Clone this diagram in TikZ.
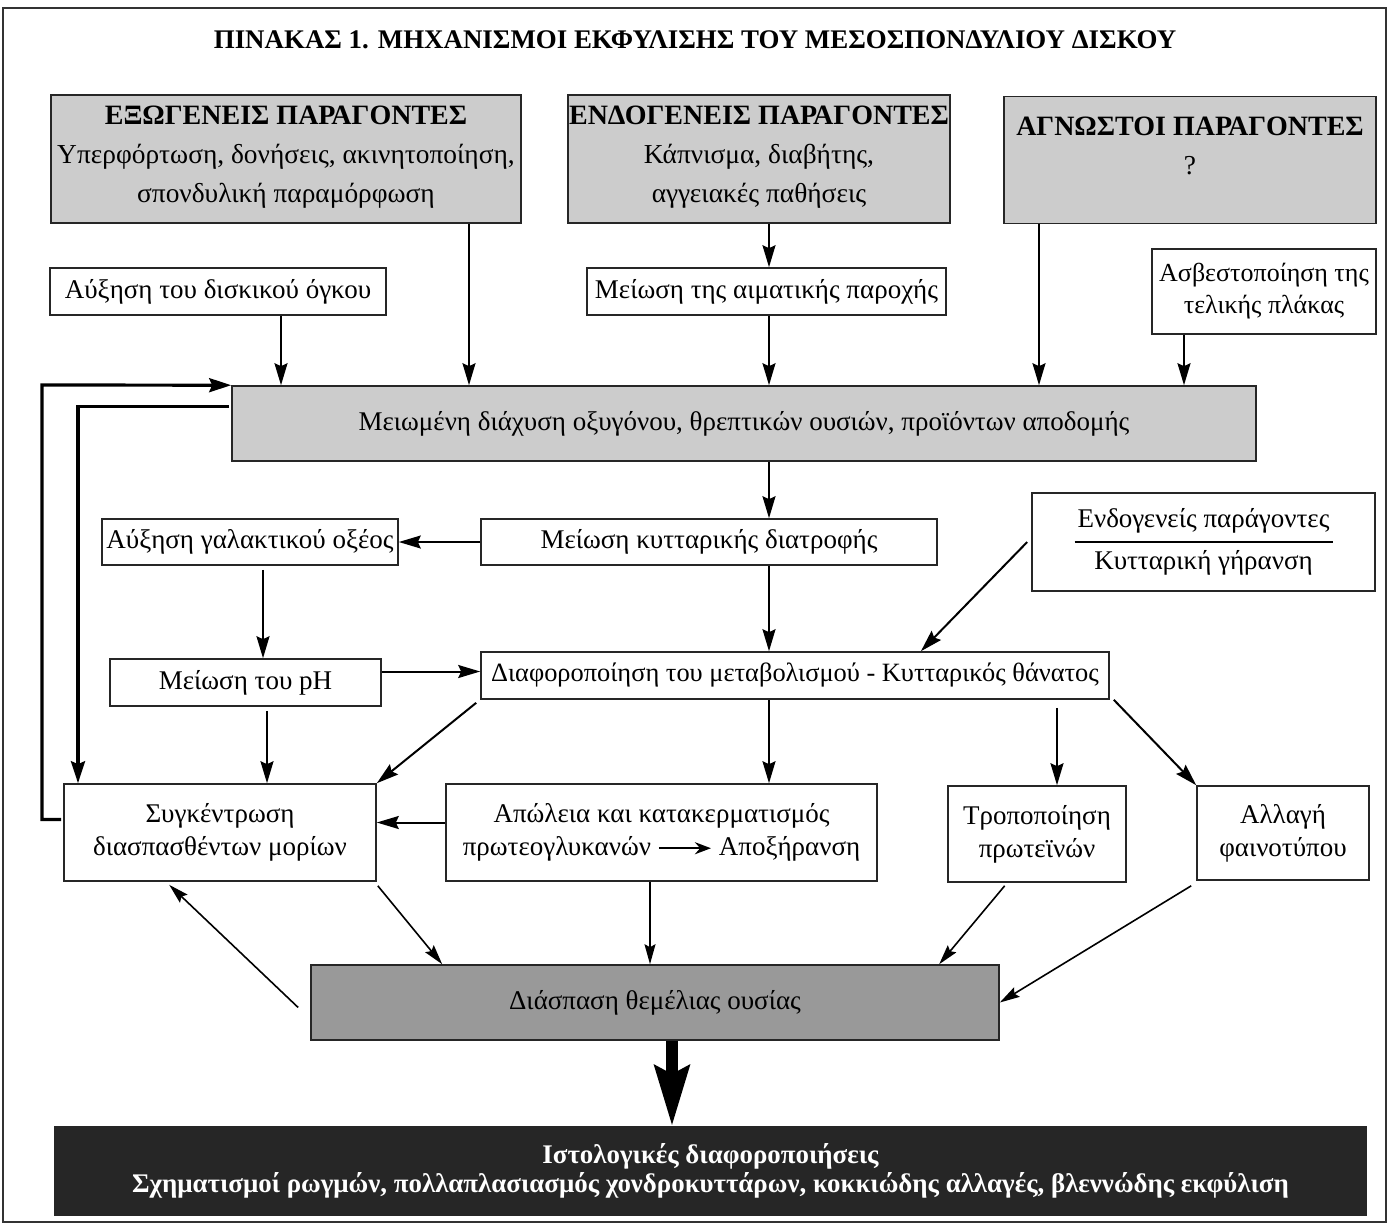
\documentclass[tikz,border=0pt]{standalone}
\usepackage{fontspec}
\setmainfont{Liberation Serif}
\usetikzlibrary{arrows.meta,calc}

\newcommand{\bodyfont}{\fontsize{13.5}{16.5}\selectfont}
\newcommand{\topfont}{\fontsize{13.7}{19.5}\selectfont}
\newcommand{\headfont}{\fontsize{14}{19.5}\selectfont\bfseries}
\newcommand{\longarr}{\tikz[baseline=-0.6ex]\draw[line width=1.2pt,-{Stealth[length=8pt,width=6pt]}] (0pt,0pt) -- (26pt,0pt);}

\begin{document}
\begin{tikzpicture}[x=0.5pt, y=-0.5pt,
  wh/.style 2 args={minimum width={#1*0.5pt}, minimum height={#2*0.5pt}},
  box/.style={draw=black!85, line width=0.8pt, fill=white, inner sep=0pt, align=center, font=\bodyfont},
  graybox/.style={box, fill=gray!40},
  toptext/.style={align=center, font=\topfont, inner sep=0pt},
  arr/.style={line width=1pt, -{Stealth[length=11pt, width=6.5pt, inset=1.5pt]}},
  thinarr/.style={line width=0.8pt, -{Stealth[length=10pt, width=5.5pt, inset=1.5pt]}},
  fb/.style={line width=1.6pt, -{Stealth[length=11pt, width=7pt, inset=1.5pt]}},
  bigarr/.style={line width=6pt, -{Stealth[length=30pt, width=17pt, inset=4pt]}},
]
\useasboundingbox (0,0) rectangle (1393,1228);
\draw[draw=black!80, line width=0.8pt] (3,8) rectangle (1386,1222);

% title
\node[font=\fontsize{13.45}{15}\selectfont\bfseries] (title) at (695,40) {ΠΙΝΑΚΑΣ 1. ΜΗΧΑΝΙΣΜΟΙ ΕΚΦΥΛΙΣΗΣ ΤΟΥ ΜΕΣΟΣΠΟΝΔΥΛΙΟΥ ΔΙΣΚΟΥ};

% factors
\node[graybox, wh={470}{128}] (exo) at (286,159) {};
\node[toptext] (exoT) at (286,157) {{\headfont ΕΞΩΓΕΝΕΙΣ ΠΑΡΑΓΟΝΤΕΣ}\\Υπερφόρτωση, δονήσεις, ακινητοποίηση,\\σπονδυλική παραμόρφωση};
\node[graybox, wh={382}{128}] (endo) at (759,159) {};
\node[toptext] (endoT) at (759,157) {{\headfont ΕΝΔΟΓΕΝΕΙΣ ΠΑΡΑΓΟΝΤΕΣ}\\Κάπνισμα, διαβήτης,\\αγγειακές παθήσεις};
\node[graybox, wh={372}{127}] (agn) at (1190,160) {};
\node[toptext] (agnT) at (1190,146) {{\headfont ΑΓΝΩΣΤΟΙ ΠΑΡΑΓΟΝΤΕΣ}\\?};

\node[box, wh={336}{47}] (disk) at (218,291.5) {Αύξηση του δισκικού όγκου};
\node[box, wh={359}{47}] (blood) at (766.5,291.5) {Μείωση της αιματικής παροχής};
\node[box, wh={224}{85}, font=\fontsize{13}{16}\selectfont] (calc) at (1264,291.5) {Ασβεστοποίηση της\\τελικής πλάκας};
\node[graybox, wh={1024}{75}] (big) at (744,423.5) {Μειωμένη διάχυση οξυγόνου, θρεπτικών ουσιών, προϊόντων αποδομής};

% cell level
\node[box, wh={296}{46}] (lactic) at (250,542) {Αύξηση γαλακτικού οξέος};
\node[box, wh={456}{46}] (nutr) at (709,542) {Μείωση κυτταρικής διατροφής};
\node[box, wh={343}{98}, font=\fontsize{13.5}{21}\selectfont] (endog) at (1203.5,542) {Ενδογενείς παράγοντες\\Κυτταρική γήρανση};
\draw[line width=0.6pt] ($(endog.center)+(-129,0)$) -- ($(endog.center)+(129,0)$);
\node[box, wh={271}{47}] (ph) at (245.5,682.5) {Μείωση του pH};
\node[box, wh={628}{47}, font=\fontsize{13.2}{16}\selectfont] (metab) at (795,675.5) {Διαφοροποίηση του μεταβολισμού - Κυτταρικός θάνατος};

\node[box, wh={312}{97}] (syg) at (220,832.5) {Συγκέντρωση\\διασπασθέντων μορίων};
\node[box, wh={431}{97}] (loss) at (661.5,832.5) {Απώλεια και κατακερματισμός\\πρωτεογλυκανών \longarr\ Αποξήρανση};
\node[box, wh={178}{96}] (prot) at (1037,834) {Τροποποίηση\\πρωτεϊνών};
\node[box, wh={172}{94}] (phen) at (1283,833) {Αλλαγή\\φαινοτύπου};

\node[box, fill=gray!80, wh={688}{75}] (diasp) at (655,1002.5) {Διάσπαση θεμέλιας ουσίας};
\node[box, fill=black!85, text=white, wh={1311}{88}, font=\fontsize{13.45}{14.5}\selectfont\bfseries] (final) at (710.5,1171) {Ιστολογικές διαφοροποιήσεις\\Σχηματισμοί ρωγμών, πολλαπλασιασμός χονδροκυττάρων, κοκκιώδης αλλαγές, βλεννώδης εκφύλιση};

% arrow columns
\coordinate (xdisk) at (281,0);
\coordinate (xexo) at (469,0);
\coordinate (xmid) at (769,0);
\coordinate (xagn) at (1039,0);
\coordinate (xcalc) at (1184,0);
\coordinate (xlac) at (263,0);
\coordinate (xph) at (267,0);
\coordinate (xprot) at (1057,0);
\coordinate (xloss) at (650,0);
\coordinate (xthick) at (672,0);
\coordinate (loopL) at (42,385);
\coordinate (loopR) at (78,0);

\draw[arr] (disk.south -| xdisk) -- (big.north -| xdisk);
\draw[arr] (exo.south -| xexo) -- (big.north -| xexo);
\draw[arr] (endo.south -| xmid) -- (blood.north -| xmid);
\draw[arr] (blood.south -| xmid) -- (big.north -| xmid);
\draw[arr] (agn.south -| xagn) -- (big.north -| xagn);
\draw[arr] (calc.south -| xcalc) -- (big.north -| xcalc);
\draw[arr] (big.south -| xmid) -- (nutr.north -| xmid);
\draw[arr] (nutr.west) -- (lactic.east);
\draw[arr] ($(lactic.south -| xlac)+(0,4)$) -- (ph.north -| xlac);
\draw[arr] ($(ph.east)+(0,-11)$) -- ($(metab.west)+(0,-4)$);
\draw[arr] (nutr.south -| xmid) -- (metab.north -| xmid);
\draw[arr] ($(endog.west)+(-4,0)$) -- ($(metab.north west)!0.7!(metab.north east)$);
\draw[arr] ($(metab.south west)+(-4,3)$) -- (syg.north east);
\draw[arr] (metab.south -| xmid) -- (loss.north -| xmid);
\draw[arr] ($(metab.south -| xprot)+(0,8)$) -- (prot.north -| xprot);
\draw[arr] ($(metab.south east)+(4,0)$) -- (phen.north west);
\draw[arr] ($(ph.south -| xph)+(0,4)$) -- (syg.north -| xph);
\draw[arr] ($(loss.west)+(0,-10)$) -- ($(syg.east)+(0,-10)$);
\draw[fb] ($(syg.west)+(-2,-13)$) -| (loopL) -- (big.north west);
\draw[fb] ($(big.west)+(-2,-17)$) -| (syg.north -| loopR);

\draw[thinarr] ($(syg.south east)+(1,4)$) -- ($(diasp.north west)+(132,0)$);
\draw[thinarr] (loss.south -| xloss) -- (diasp.north -| xloss);
\draw[thinarr] ($(prot.south west)!0.32!(prot.south east)+(0,3)$) -- ($(diasp.north west)+(629,0)$);
\draw[thinarr] ($(phen.south west)+(-5,5)$) -- (diasp.east);
\draw[thinarr] ($(diasp.west)+(-12,5)$) -- ($(syg.south west)+(106,3)$);
\draw[bigarr] (diasp.south -| xthick) -- (final.north -| xthick);
\end{tikzpicture}
\end{document}
